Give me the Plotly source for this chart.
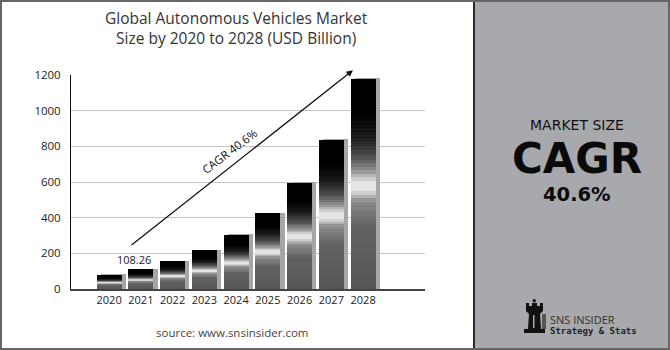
import numpy as np
import plotly.graph_objects as go

# ---- data ----
years = [2020, 2021, 2022, 2023, 2024, 2025, 2026, 2027, 2028]
market_size = [77, 108.26, 152, 214, 301, 423, 595, 836, 1175.90]
y_ticks = [0, 200, 400, 600, 800, 1000, 1200]
title_text = "Global Autonomous Vehicles Market<br>Size by 2020 to 2028 (USD Billion)"
source_text = "source: www.snsinsider.com"
cagr_text = "CAGR 40.6%"
label_start = "108.26"
label_end = "1175.90"

# ---- layout geometry (pixels) ----
W, H = 670, 350
L, R, T, B = 71, 245, 75, 61
PW, PH = W - L - R, H - T - B


def px(x):
    return (x - L) / PW


def py(y):
    return (H - B - y) / PH


def path(points):
    s = "M " + " L ".join(f"{px(a):.5f},{py(b):.5f}" for a, b in points) + " Z"
    return s


vals = np.array(market_size, dtype=float)

# gradient profile (relative height -> grey level)
stops_t = [0.0, 0.3, 0.42, 0.47, 0.51, 0.56, 0.63, 0.73, 0.83, 1.0]
stops_g = [86, 98, 140, 228, 228, 150, 78, 25, 0, 0]

fig = go.Figure()

bar_w = 0.79
# shadow
fig.add_trace(go.Bar(
    x=years, y=vals + 6, base=0, width=bar_w, offset=-bar_w / 2 + 0.13,
    marker=dict(color="#a6a6a6", line=dict(width=0)), hoverinfo="skip",
    showlegend=False))

N = 60
edges = np.linspace(0, 1, N + 1)
for i in range(N):
    t0, t1 = edges[i], edges[i + 1]
    g = int(round(np.interp((t0 + t1) / 2, stops_t, stops_g)))
    col = f"rgb({g},{g},{g})"
    h = (t1 - t0) * 1.6 if i < N - 1 else (t1 - t0)
    fig.add_trace(go.Bar(
        x=years, y=vals * h, base=vals * t0, width=bar_w, offset=-bar_w / 2,
        marker=dict(color=col, line=dict(width=0)), hoverinfo="skip",
        showlegend=False))

fig.update_layout(
    width=W, height=H, margin=dict(l=L, r=R, t=T, b=B, pad=0),
    paper_bgcolor="white", plot_bgcolor="white", barmode="overlay",
    bargap=0, showlegend=False,
    font=dict(family="Open Sans", color="#222"),
)
fig.update_xaxes(
    range=[2018.8, 2029.95], tickmode="array", tickvals=years,
    ticktext=[str(y) for y in years], showgrid=False, zeroline=False,
    showline=True, linecolor="#444", linewidth=2, ticks="",
    tickfont=dict(family="Open Sans", size=11, color="#222"), fixedrange=True)
fig.update_yaxes(
    range=[0, 1200], tickmode="array", tickvals=y_ticks, showgrid=True,
    gridcolor="#c4c4c4", gridwidth=1, zeroline=False, showline=True,
    linecolor="#111", linewidth=1, ticks="", ticklabelstandoff=7,
    tickfont=dict(family="Open Sans", size=11.5, color="#222"), fixedrange=True)

shapes = []
# right panel
shapes.append(dict(type="rect", xref="paper", yref="paper", x0=px(475), x1=px(670),
                   y0=py(350), y1=py(0), fillcolor="#a8a9ad", line=dict(width=0),
                   layer="below"))
# divider
shapes.append(dict(type="line", xref="paper", yref="paper", x0=px(474), x1=px(474),
                   y0=py(350), y1=py(0), line=dict(color="#2a2a2a", width=2)))
# outer border
shapes.append(dict(type="rect", xref="paper", yref="paper", x0=px(1), x1=px(669),
                   y0=py(349), y1=py(1), line=dict(color="#666", width=2),
                   fillcolor="rgba(0,0,0,0)"))
# rook icon
rook = [(524, 333), (545, 333), (545, 329), (541, 329), (540, 314), (543, 311), (543, 303),
        (540, 303), (540, 306), (537, 306), (537, 303), (532, 303), (532, 306), (529, 306),
        (529, 303), (526, 303), (526, 311), (529, 314), (528, 329), (524, 329)]
shapes.append(dict(type="path", xref="paper", yref="paper", path=path(rook),
                   fillcolor="#111", line=dict(width=0)))
shapes.append(dict(type="circle", xref="paper", yref="paper", x0=px(532.5), x1=px(536),
                   y0=py(302.5), y1=py(299), fillcolor="#111", line=dict(width=0)))
shapes.append(dict(type="rect", xref="paper", yref="paper", x0=px(533), x1=px(534.5),
                   y0=py(328), y1=py(315), fillcolor="#a8a9ad", line=dict(width=0)))
shapes.append(dict(type="rect", xref="paper", yref="paper", x0=px(542), x1=px(546),
                   y0=py(329), y1=py(314), fillcolor="#555", line=dict(width=0)))
fig.update_layout(shapes=shapes)


def pann(x, y, text, font, xanchor="center"):
    return dict(xref="paper", yref="paper", x=px(x), y=py(y), text=text,
                showarrow=False, xanchor=xanchor, yanchor="middle", font=font)


ann = []
ann.append(pann(236, 28.5, title_text, dict(family="Open Sans", size=15.5, color="#333")))
ann.append(pann(232, 332, source_text, dict(family="Open Sans", size=11.5, color="#444")))
# arrow
ann.append(dict(x=2027.68, y=1227, ax=2020.66, ay=240, xref="x", yref="y",
                axref="x", ayref="y", text="", showarrow=True, arrowhead=2,
                arrowsize=1, arrowwidth=1.3, arrowcolor="#111"))
ann.append(dict(x=2023.78, y=772, xref="x", yref="y", text=cagr_text, showarrow=False,
                textangle=-37, xanchor="center", yanchor="middle",
                font=dict(family="Open Sans", size=11.5, color="#111")))
ann.append(dict(x=2020.79, y=167, xref="x", yref="y", text=label_start, showarrow=False,
                xanchor="center", yanchor="middle",
                font=dict(family="Open Sans", size=11, color="#222")))
ann.append(dict(x=2028.31, y=1238, xref="x", yref="y", text=label_end, showarrow=False,
                xanchor="center", yanchor="middle",
                font=dict(family="Open Sans", size=11, color="#222")))
# right panel texts
ann.append(pann(577, 124.5, "MARKET SIZE", dict(family="DejaVu Sans", size=14, color="#111")))
ann.append(pann(577, 158, "<b>CAGR</b>", dict(family="DejaVu Sans", size=42, color="#0a0a0a")))
ann.append(pann(577, 194, "<b>40.6%</b>", dict(family="DejaVu Sans", size=19.5, color="#0a0a0a")))
ann.append(pann(548, 319, "SNS INSIDER", dict(family="Open Sans", size=11, color="#333"),
                xanchor="left"))
ann.append(pann(548, 331, "<b>Strategy &amp; Stats</b>",
                dict(family="DejaVu Sans Mono", size=9, color="#222"), xanchor="left"))
fig.update_layout(annotations=ann)

fig.write_html("out.html")
